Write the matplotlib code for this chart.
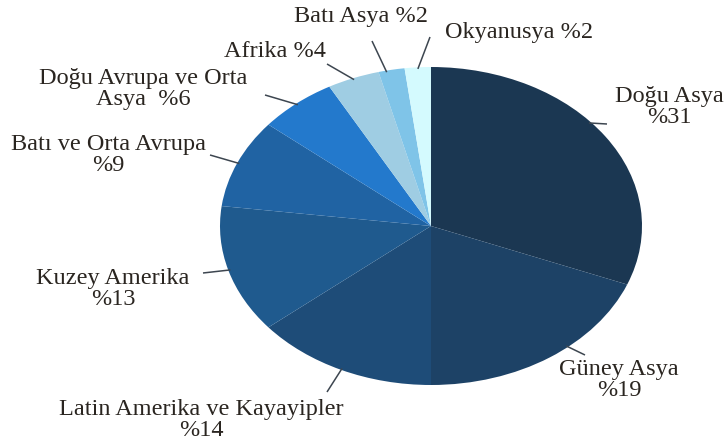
import matplotlib

matplotlib.use("Agg")
import matplotlib.pyplot as plt
import numpy as np

regions = [
    "Doğu Asya",
    "Güney Asya",
    "Latin Amerika ve Kayayipler",
    "Kuzey Amerika",
    "Batı ve Orta Avrupa",
    "Doğu Avrupa ve Orta Asya",
    "Afrika",
    "Batı Asya",
    "Okyanusya",
]
shares = [31, 19, 14, 13, 9, 6, 4, 2, 2]
colors = [
    "#1b3752", "#1d4266", "#1e4c78", "#1f5a8e", "#2063a3",
    "#2379cc", "#9fcde3", "#7fc4e8", "#d4fafe",
]

# label layout in figure pixels (from top-left): text centre, leader end,
# and where along each wedge's rim the leader starts (0 = first edge, 1 = last)
label_text = [
    "Doğu Asya\n%{}",
    "Güney Asya\n%{}",
    "Latin Amerika ve Kayayipler\n%{}",
    "Kuzey Amerika\n%{}",
    "Batı ve Orta Avrupa\n%{}",
    "Doğu Avrupa ve Orta\nAsya  %{}",
    "Afrika %{}",
    "Batı Asya %{}",
    "Okyanusya %{}",
]
text_pos = [(669, 107), (619, 380), (201, 420), (113, 289), (108, 155),
            (143, 89), (275, 52), (361, 17), (519, 33)]
leader_end = [(607, 124), (585, 355), (327, 392), (203, 273), (210, 155),
              (265, 95), (327, 64), (372, 41), (430, 37)]
anchor_frac = [0.44, 0.41, 0.5, 0.5, 0.5, 0.5, 0.5, 0.3, 0.5]

W, H = 726, 443
CX, CY, RX, RY = 431, 226, 211, 159


def px(x, y):
    """Figure pixel (top-left origin) to pie data coordinates."""
    return (x - CX) / RX, (CY - y) / RY


fig = plt.figure(figsize=(W / 100, H / 100), dpi=100)
ax = fig.add_axes([0, 0, 1, 1])
wedges, _ = ax.pie(
    shares,
    colors=colors,
    startangle=90,
    counterclock=False,
    wedgeprops=dict(linewidth=0.4, edgecolor="none"),
)
ax.set_aspect("auto")
ax.set_xlim(-CX / RX, (W - CX) / RX)
ax.set_ylim(-(H - CY) / RY, CY / RY)
ax.axis("off")

for w, txt, tp, le, f, v in zip(wedges, label_text, text_pos, leader_end,
                                anchor_frac, shares):
    # clockwise pie: theta2 is the wedge's first edge
    ang = np.deg2rad(w.theta2 + f * (w.theta1 - w.theta2))
    start = (0.99 * np.cos(ang), 0.99 * np.sin(ang))
    end = px(*le)
    ax.plot([start[0], end[0]], [start[1], end[1]],
            color="#3d4650", lw=1.1, solid_capstyle="butt")
    ax.text(*px(*tp), txt.format(v), ha="center", va="center",
            fontsize=17.5, family="Liberation Serif", color="#2a2520",
            linespacing=0.95)

fig.savefig("out.png", dpi=100)
